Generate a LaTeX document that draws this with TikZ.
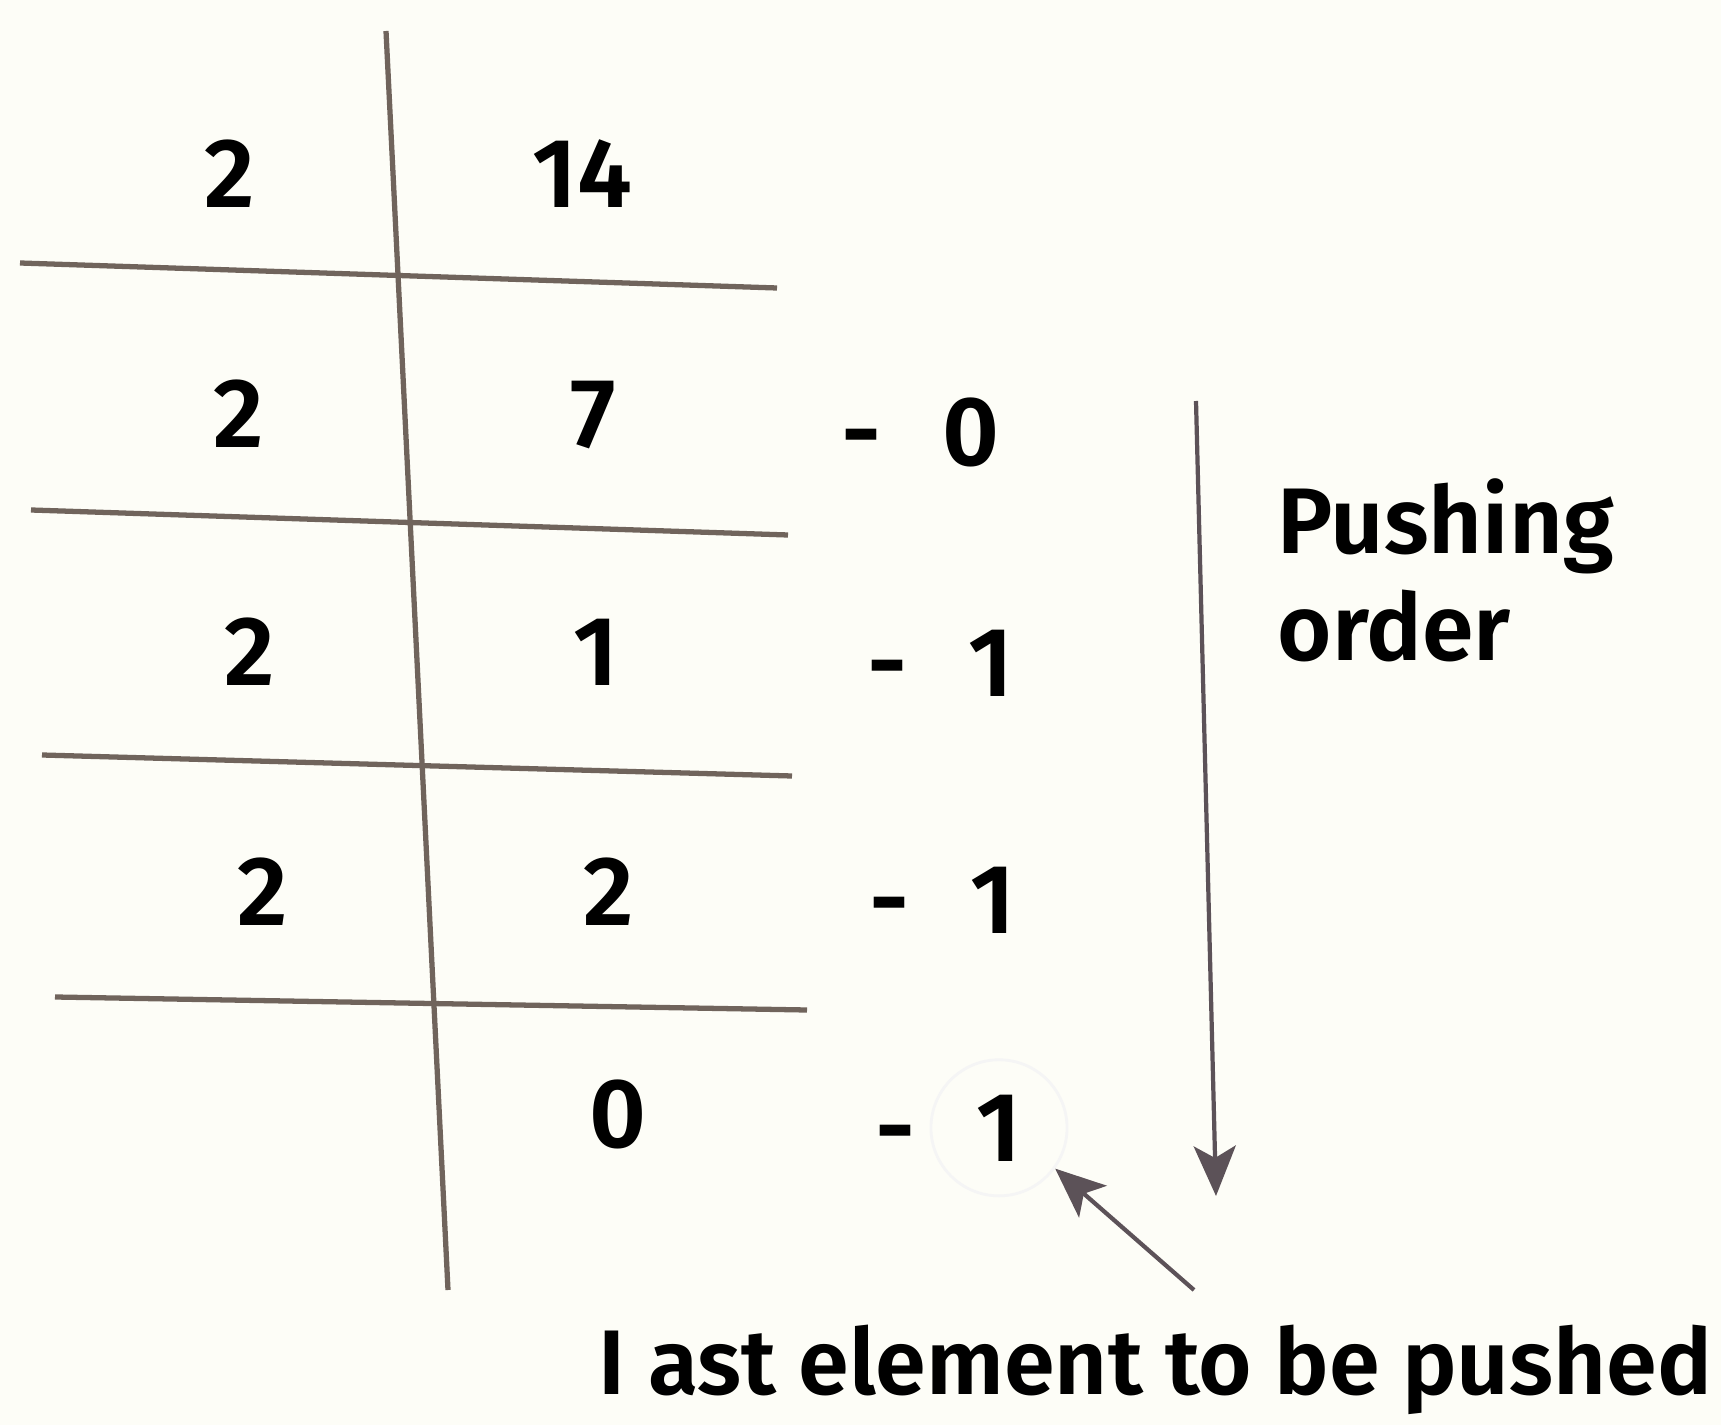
\documentclass[tikz,border=0pt]{standalone}
\usepackage{fontspec}
\setmainfont{Fira Sans}[BoldFont={Fira Sans SemiBold}]
\usetikzlibrary{arrows.meta, positioning}
\definecolor{paper}{RGB}{253,253,247}
\definecolor{linegray}{RGB}{112,100,92}
\definecolor{pengray}{RGB}{92,82,88}
\tikzset{
  num/.style={anchor=base, inner sep=0pt, font=\fontsize{28}{30}\selectfont\bfseries},
  note/.style={inner sep=0pt, align=left, font=\fontsize{26.5}{30.5}\selectfont\bfseries},
  gridline/.style={draw=linegray, line width=1.5pt},
  ring/.style={circle, draw=black!4, line width=0.8pt, minimum size=1.36cm, inner sep=0pt},
  arrow/.style={-{Stealth[length=5mm, width=4.2mm, inset=1.2mm]}, draw=pengray, line width=1.2pt}
}

\begin{document}
\begin{tikzpicture}[x=0.01cm, y=-0.01cm]
    \path[use as bounding box, fill=paper] (0,0) rectangle (1721,1425);

    % division table
    \draw[gridline] (386,31) -- (448,1290);
    \draw[gridline] (20,263) -- (777,288);
    \draw[gridline] (31,510) -- (788,535);
    \draw[gridline] (42,755) -- (792,776);
    \draw[gridline] (55,997) -- (807,1010);

    \node[num] (div1) at (230,208) {2};
    \node[num] (div2) at (239,448) {2};
    \node[num] (div3) at (250,686) {2};
    \node[num] (div4) at (263,925) {2};

    \node[num] (q0) at (582,208) {14};
    \node[num] (q1) at (593,448) {7};
    \node[num] (q2) at (596,686) {1};
    \node[num] (q3) at (609,925) {2};
    \node[num] (q4) at (618,1147) {0};

    % remainders
    \node[num] (b1) at (971,466) {0};
    \node[num] (b2) at (991,697) {1};
    \node[num] (b3) at (993,933) {1};
    \node[num] (b4) at (999,1161) {1};
    \node[num, base left=0.6cm of b1] {-};
    \node[num, base left=0.6cm of b2] {-};
    \node[num, base left=0.6cm of b3] {-};
    \node[num, base left=0.6cm of b4] {-};
    \node[ring] (last) at (b4) {};

    % pushing order
    \coordinate (pushtop) at (1196,401);
    \coordinate (pushend) at (1216,1196);
    \draw[arrow] (pushtop) -- (pushend);
    \node[note, anchor=north west] (order) at (1277,478) {Pushing\\order};

    \node[note, anchor=base west, font=\fontsize{26.1}{30}\selectfont\bfseries] (lastnote) at (598,1394) {I ast element to be pushed};
    \coordinate (tail) at (1194,1290);
    \draw[arrow] (tail) -- (last.-36);
\end{tikzpicture}
\end{document}
